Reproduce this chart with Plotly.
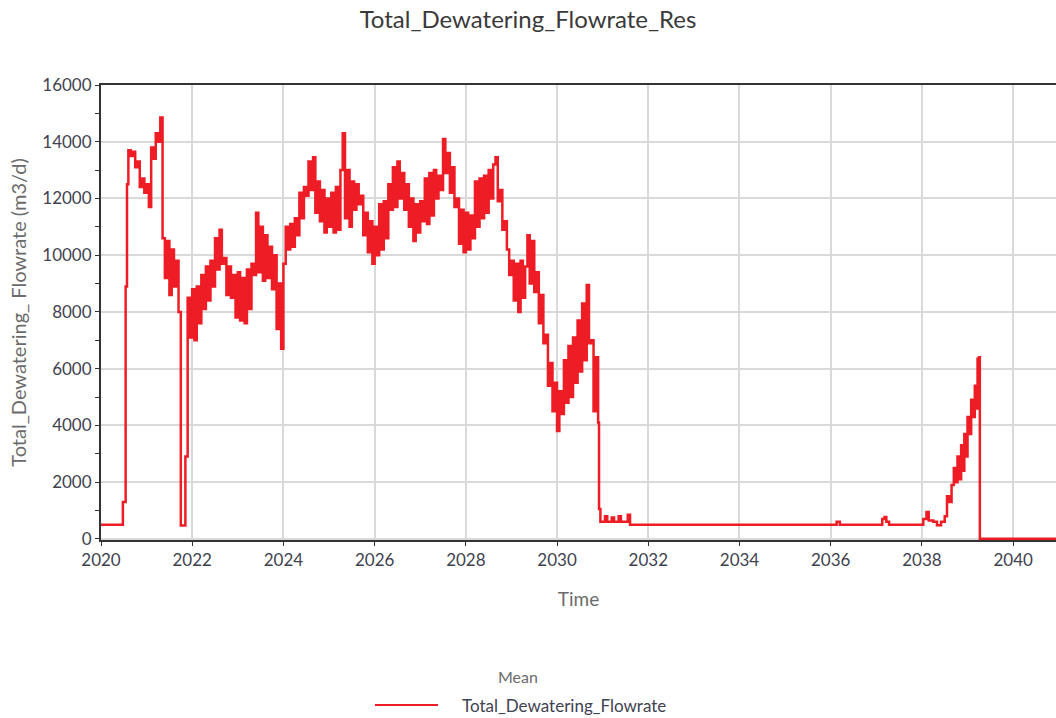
import numpy as np
import plotly.graph_objects as go

# ---- Series data (m3/d) ----
# Start-up ramp before the dense record
ramp_t = [2020.00, 2020.48, 2020.54, 2020.57]
ramp_v = [500, 1300, 8900, 12500]

# Dense record, one sample every 0.05 yr from 2020.60 to 2030.90
dense_start = 2020.60
dense_step = 0.05
dense_v = [
    # 2020.60 - 2020.95
    13700, 13500, 13650, 13100, 13300, 12400, 12700, 12200,
    # 2021
    12500, 11700, 13800, 13400, 14300, 14000, 14850, 10600, 9200, 10500,
    8600, 10200, 8900, 9800, 8000, 470, 470, 2900, 8500, 7100,
    # 2022
    8800, 7000, 8900, 7600, 9300, 8100, 9600, 8400, 9800, 8900,
    10600, 9500, 10900, 9700, 9900, 8600, 9600, 8500, 9300, 7800,
    # 2023
    9400, 7700, 9200, 7600, 9500, 8100, 9700, 9300, 11500, 9400,
    11000, 9100, 10700, 9200, 10300, 8800, 10000, 7400, 9000, 6700,
    # 2024
    9700, 11000, 10200, 11100, 10300, 11300, 10700, 12200, 11300, 12400,
    12100, 13300, 12300, 13450, 11500, 12600, 11200, 12300, 10800, 12000,
    # 2025
    11000, 12200, 10800, 12400, 10900, 13000, 14300, 11300, 13000, 11000,
    12600, 11600, 12500, 11800, 12100, 10700, 11500, 10100, 11200, 9700,
    # 2026
    11000, 10000, 11800, 10200, 11900, 10600, 12500, 11600, 13100, 11700,
    13300, 12000, 12900, 11600, 12500, 11000, 12000, 10500, 11800, 10800,
    # 2027
    11900, 11200, 12700, 11100, 12900, 11400, 13000, 12000, 12800, 12300,
    14100, 12900, 13600, 12200, 13100, 11700, 12000, 10400, 11600, 10100,
    # 2028
    11500, 10200, 11400, 10600, 12600, 11000, 12700, 11300, 12800, 11500,
    13000, 12000, 13200, 13450, 11900, 12300, 10900, 11200, 10200, 9300,
    # 2029
    9800, 8400, 9700, 8000, 9800, 8500, 9600, 10700, 9000, 10500,
    8700, 9400, 7600, 8600, 6900, 7200, 5400, 6200, 4500, 5500,
    # 2030.00 - 2030.90
    3800, 5200, 4400, 6300, 4800, 6800, 5000, 7100, 5500, 7700,
    5900, 8300, 6300, 8950, 6900, 7000, 4500, 6400, 4100,
]

# Shut-down, standby flow and the late surge
tail_t = [2030.92, 2030.95, 2031.05, 2031.10, 2031.20, 2031.25, 2031.35,
          2031.40, 2031.55, 2031.60, 2036.13, 2036.20, 2037.13, 2037.18,
          2037.22, 2037.28, 2038.03, 2038.10, 2038.15, 2038.25, 2038.33,
          2038.42, 2038.50, 2038.55, 2038.60, 2038.65, 2038.70, 2038.74,
          2038.78, 2038.82, 2038.86, 2038.90, 2038.93, 2038.96, 2039.00,
          2039.04, 2039.08, 2039.12, 2039.16, 2039.19, 2039.22, 2039.24,
          2039.25, 2039.27, 2041.00]
tail_v = [1050, 600, 800, 600, 750, 600, 800,
          600, 850, 500, 600, 500, 700, 770,
          600, 500, 700, 950, 650, 600, 480,
          600, 800, 1500, 1300, 1900, 2500, 2000,
          2900, 2100, 3300, 2400, 3700, 2900, 4300,
          3700, 4900, 4300, 5400, 4600, 6350, 5000,
          6400, 0, 0]

dense_t = list(np.round(dense_start + dense_step * np.arange(len(dense_v)), 3))
time = ramp_t + dense_t + tail_t
flow = ramp_v + dense_v + tail_v

x_ticks = list(range(2020, 2041, 2))
y_ticks = list(range(0, 16001, 2000))

SERIES = "Total_Dewatering_Flowrate"
FONT = "Lato"
TXT = "#3f4250"
GREY = "#6b6b6b"
RED = "#ee1c24"

fig = go.Figure()
fig.add_trace(go.Scatter(
    x=time, y=flow, mode="lines", line_shape="hv",
    line=dict(color=RED, width=2.5, simplify=False),
    name=SERIES, showlegend=False,
))

# Legend block under the plot: heading, line sample and series name
fig.add_shape(type="line", xref="paper", yref="paper",
              x0=0.2869, x1=0.3529, y0=-0.3626, y1=-0.3626,
              line=dict(color=RED, width=2))
fig.add_annotation(text="Mean", xref="paper", yref="paper", x=0.4366, y=-0.301,
                   xanchor="center", yanchor="middle", showarrow=False,
                   font=dict(size=16, color=GREY))
fig.add_annotation(text=SERIES, xref="paper", yref="paper", x=0.3759, y=-0.364,
                   xanchor="left", yanchor="middle", showarrow=False,
                   font=dict(size=17, color=TXT))

fig.update_layout(
    width=1056, height=718,
    paper_bgcolor="white", plot_bgcolor="white",
    margin=dict(l=101, r=0, t=85, b=178),
    font=dict(family=FONT, size=17, color=TXT),
    title=dict(text="Total_Dewatering_Flowrate_Res", x=0.5, xref="container",
               xanchor="center", y=0.984, yref="container",
               font=dict(size=24, color="#3a3a3a")),
    showlegend=False,
)

fig.update_xaxes(
    range=[2020, 2040.94], tickvals=x_ticks, ticktext=[str(v) for v in x_ticks],
    showgrid=True, gridcolor="#d9d9d9", gridwidth=1.5,
    showline=True, linecolor="#333333", linewidth=2, mirror=True,
    ticks="outside", ticklen=4, tickcolor="#333333", layer="below traces",
    tickfont=dict(size=17, color=TXT), zeroline=False,
    title=dict(text="Time", font=dict(size=19, color=GREY), standoff=23),
)
fig.update_yaxes(
    range=[-40, 16000], tickvals=y_ticks, ticktext=[str(v) for v in y_ticks],
    showgrid=True, gridcolor="#d9d9d9", gridwidth=1.5,
    showline=True, linecolor="#333333", linewidth=2, layer="below traces",
    ticks="outside", ticklen=4, tickcolor="#333333",
    minor=dict(dtick=1000, ticks="outside", ticklen=4, tickcolor="#333333", showgrid=False),
    tickfont=dict(size=17, color=TXT), zeroline=False,
    title=dict(text="Total_Dewatering_ Flowrate (m3/d)", font=dict(size=20, color=GREY), standoff=10),
)

fig.write_html("out.html")
